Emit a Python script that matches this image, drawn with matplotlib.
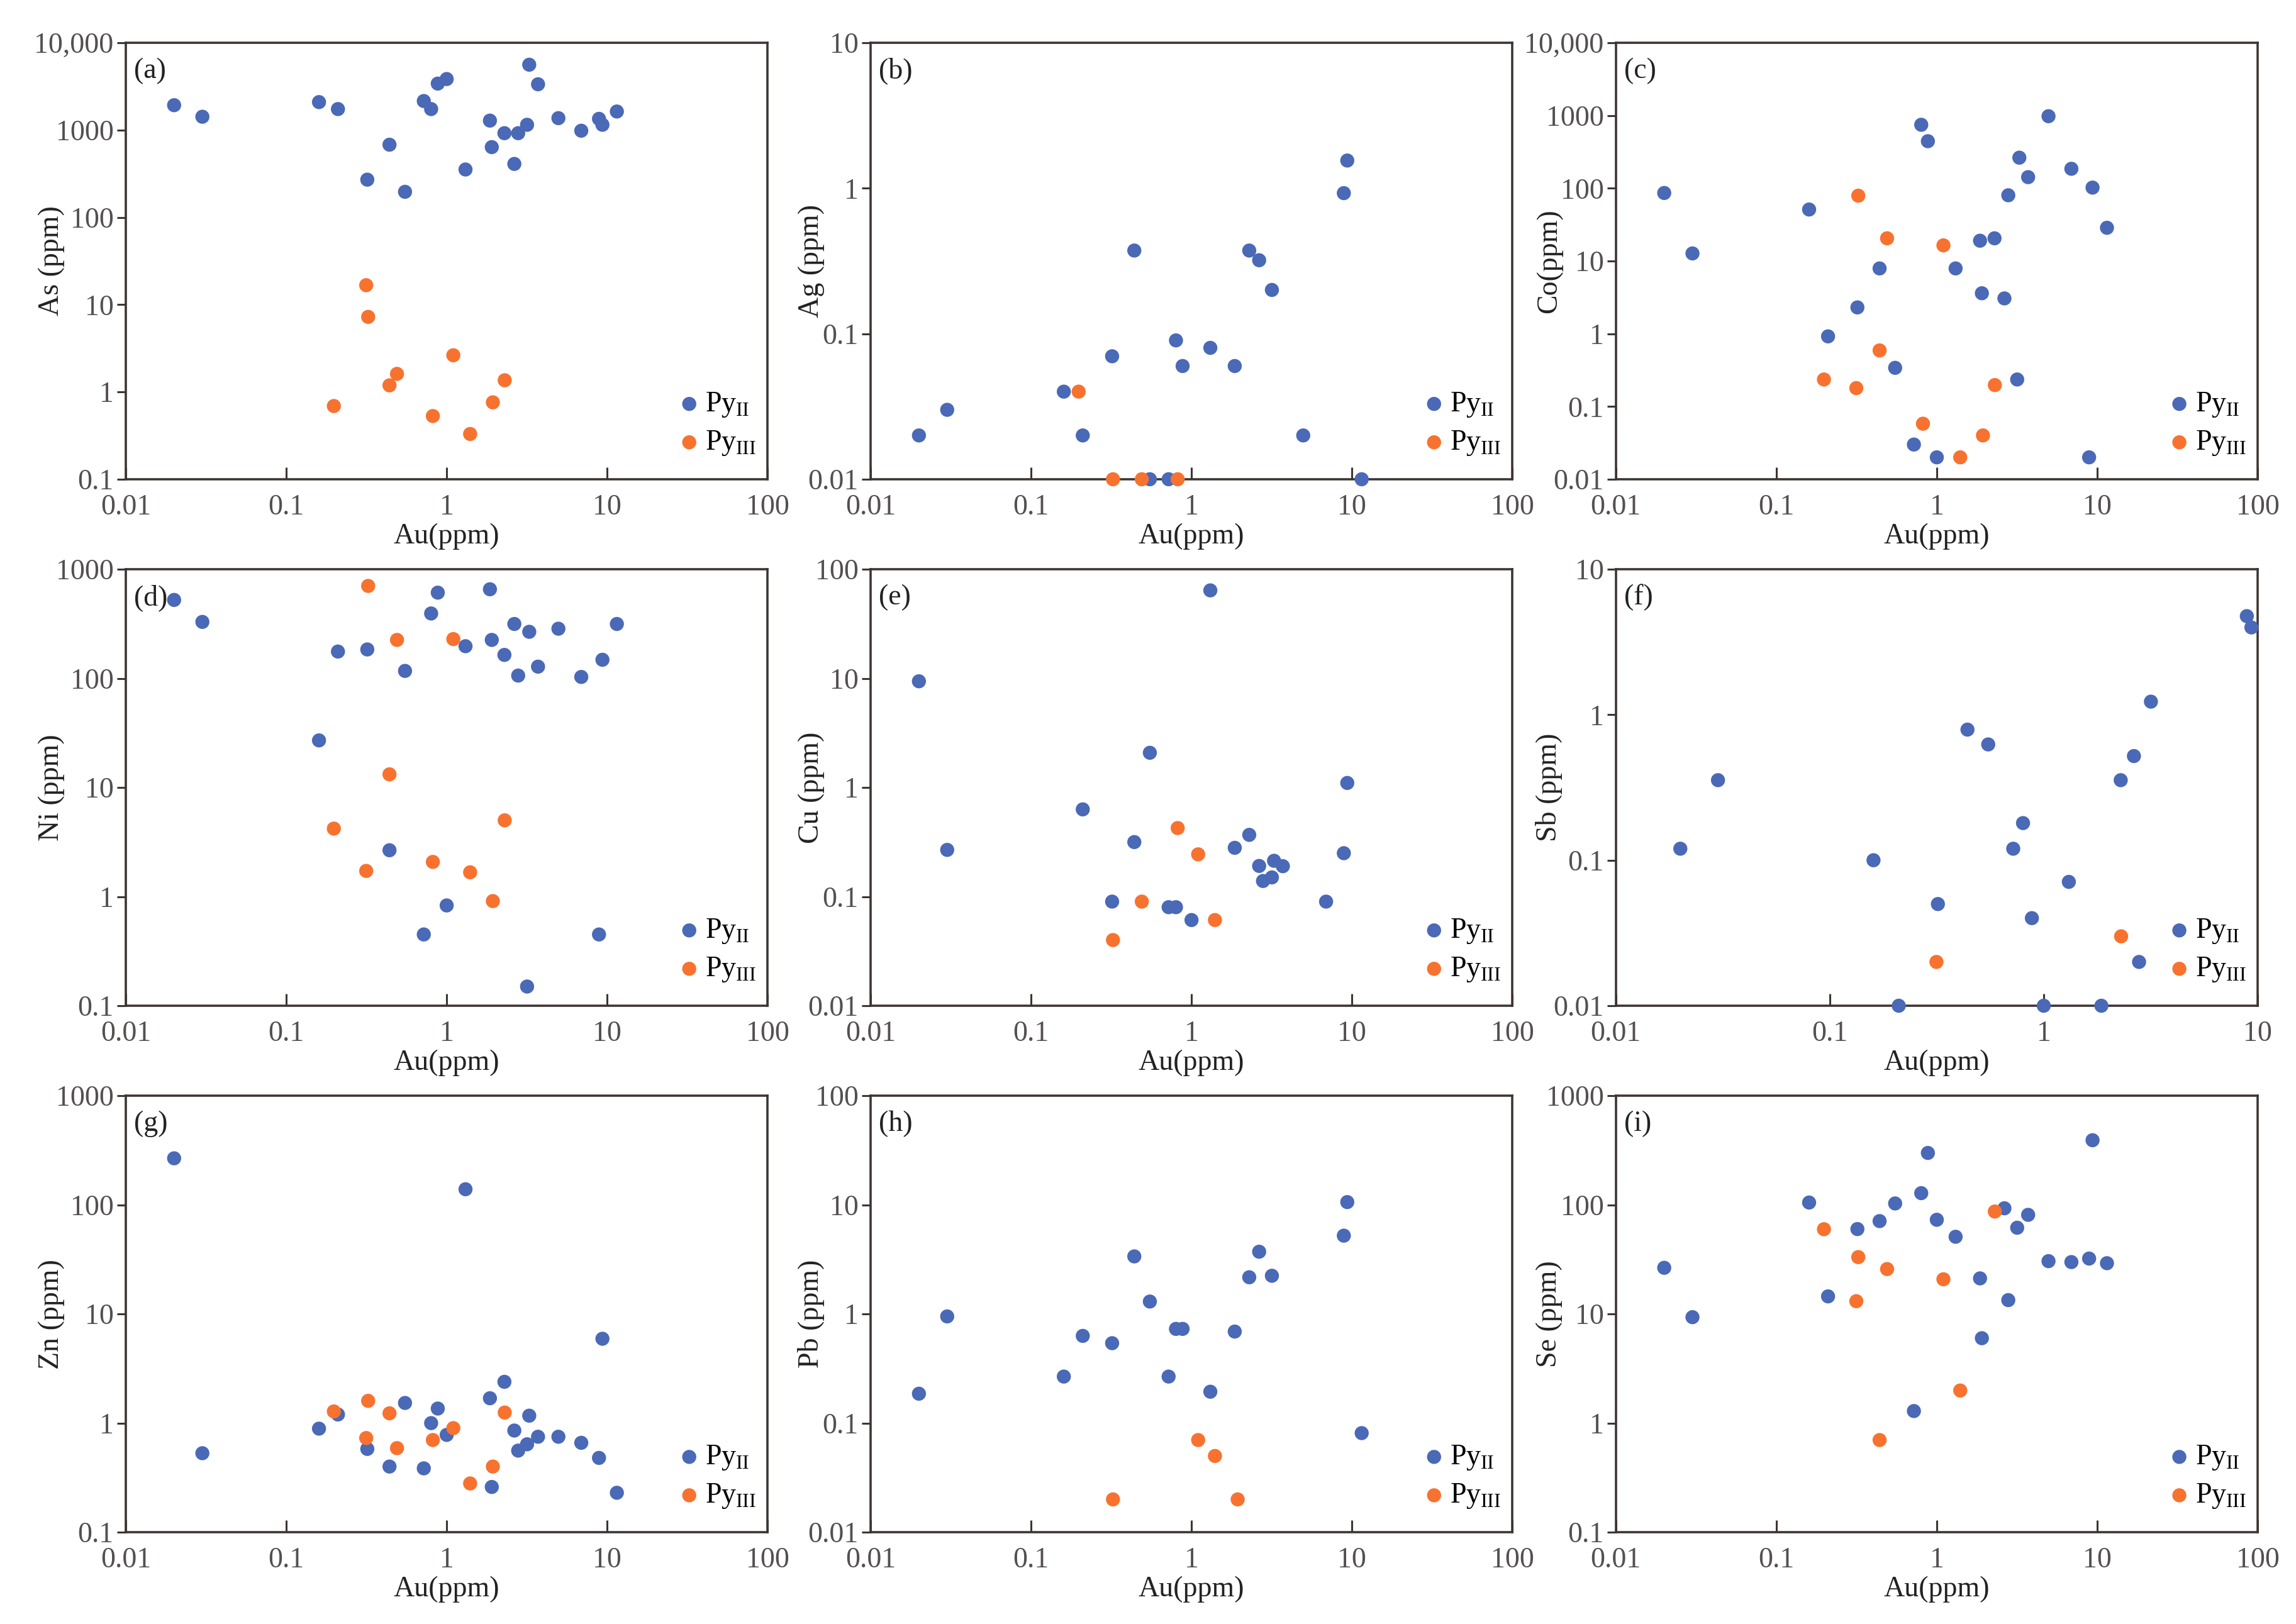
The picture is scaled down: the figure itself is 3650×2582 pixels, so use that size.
import numpy as np
import matplotlib
matplotlib.use("Agg")
import matplotlib.pyplot as plt
from matplotlib.ticker import FixedLocator, FuncFormatter

plt.rcParams["font.family"] = ["Liberation Serif", "DejaVu Serif"]
plt.rcParams["mathtext.fontset"] = "custom"
plt.rcParams["mathtext.rm"] = "Liberation Serif"

nan = np.nan

# Au content (ppm) of the analysed spots
AU_II = [0.02, 0.03, 0.16, 0.21, 0.32, 0.44, 0.55, 0.72, 0.80, 0.88, 1.0, 1.31, 1.86,
         1.91, 2.29, 2.64, 2.79, 3.17, 3.27, 3.71, 4.97, 6.9, 8.9, 9.35, 11.5]
AU_III = [0.198, 0.315, 0.324, 0.44, 0.49, 0.82, 1.10, 1.40, 1.94, 2.30]

# element contents (ppm), NaN = below detection / not plotted
AS_II = [1925, 1419, 2089, 1738, 270, 679, 196, 2148, 1738, 3404, 3837, 353, 1282,
         637, 920, 409, 920, 1148, 5598, 3342, 1368, 982, 1343, 1148, 1629]
AS_III = [0.69, 16.7, 7.24, 1.19, 1.61, 0.53, 2.63, 0.33, 0.76, 1.36]

AG_II = [0.02, 0.03, 0.04, 0.02, 0.07, 0.373, 0.01, 0.01, 0.09, 0.06, nan, 0.08, 0.06,
         nan, 0.373, 0.32, nan, 0.20, nan, nan, 0.02, nan, 0.925, 1.55, 0.01]
AG_III = [0.04, nan, 0.01, nan, 0.01, 0.01, nan, nan, nan, nan]

CO_II = [86, 12.7, 51, 0.92, 2.3, 7.9, 0.34, 0.03, 745, 443, 0.02, 7.9, 19,
         3.6, 20.5, 3.06, 80, 0.235, 263, 142, 977, 185, 0.02, 102, 28.6]
CO_III = [0.235, 0.179, 79, 0.59, 20.5, 0.058, 16.4, 0.02, 0.04, 0.197]

NI_II = [523, 329, 27, 176, 184, 2.66, 117, 0.45, 393, 610, 0.83, 197, 655,
         225, 164, 315, 106, 0.15, 267, 128, 285, 103, 0.45, 148, 315]
NI_III = [4.2, 1.72, 703, 13.2, 225, 2.08, 229, 1.67, 0.91, 5.0]

CU_II = [9.4, 0.268, nan, 0.63, 0.09, 0.316, 2.08, 0.08, 0.08, nan, 0.061, 64, 0.28,
         nan, 0.368, 0.191, 0.139, 0.15, 0.213, 0.19, nan, 0.09, 0.25, 1.1, nan]
CU_III = [nan, nan, 0.04, nan, 0.09, 0.425, 0.244, 0.061, nan, nan]

SB_II = [0.12, 0.355, 0.1, 0.01, 0.05, 0.79, 0.625, 0.12, 0.18, 0.04, 0.01, 0.071, 0.01,
         nan, 0.355, 0.52, 0.02, 1.23, nan, nan, nan, nan, 4.76, 3.98, nan]
SB_III = [nan, 0.02, nan, nan, nan, nan, nan, nan, nan, 0.03]

ZN_II = [267, 0.53, 0.89, 1.20, 0.58, 0.40, 1.53, 0.385, 1.0, 1.36, 0.78, 139, 1.69,
         0.26, 2.39, 0.855, 0.56, 0.64, 1.17, 0.75, 0.75, 0.66, 0.48, 5.93, 0.23]
ZN_III = [1.28, 0.73, 1.6, 1.23, 0.59, 0.70, 0.90, 0.28, 0.40, 1.25]

PB_II = [0.186, 0.95, 0.267, 0.63, 0.54, 3.37, 1.30, 0.267, 0.73, 0.73, nan, 0.194, 0.69,
         nan, 2.17, 3.72, nan, 2.24, nan, nan, nan, nan, 5.22, 10.6, 0.081]
PB_III = [nan, nan, 0.02, nan, nan, nan, 0.07, 0.05, 0.02, nan]

SE_II = [26.5, 9.35, 105, 14.5, 60, 71, 103, 1.29, 128, 299, 73, 51, 21.2,
         6.0, nan, 93, 13.4, 61.7, nan, 81, 30.5, 29.9, 32.2, 391, 29.2]
SE_III = [59.8, 13.1, 33.2, 0.70, 25.8, nan, 20.8, 1.99, nan, 86.9]

# tag, y label, Py-II values, Py-III values, y range, x max, y-label offset
PANELS = [
    ("(a)", "As (ppm)", AS_II, AS_III, (0.1, 10000), 100, -0.095),
    ("(b)", "Ag (ppm)", AG_II, AG_III, (0.01, 10), 100, -0.072),
    ("(c)", "Co(ppm)", CO_II, CO_III, (0.01, 10000), 100, -0.083),
    ("(d)", "Ni (ppm)", NI_II, NI_III, (0.1, 1000), 100, -0.095),
    ("(e)", "Cu (ppm)", CU_II, CU_III, (0.01, 100), 100, -0.072),
    ("(f)", "Sb (ppm)", SB_II, SB_III, (0.01, 10), 10, -0.083),
    ("(g)", "Zn (ppm)", ZN_II, ZN_III, (0.1, 1000), 100, -0.095),
    ("(h)", "Pb (ppm)", PB_II, PB_III, (0.01, 100), 100, -0.072),
    ("(i)", "Se (ppm)", SE_II, SE_III, (0.1, 1000), 100, -0.083),
]

BLUE = "#4A69B6"
ORANGE = "#F8722F"
FRAME = "#3d3532"
TICKCOL = "#555050"
FS = 33

COL_LEFT = [0.0548, 0.3792, 0.7038]
ROW_BOTTOM = [0.7049, 0.3807, 0.0565]
AX_W = 0.2795
AX_H = 0.2688


def fmt(v, pos):
    if v >= 10000:
        return f"{v:,.0f}"
    return f"{v:g}"


fig = plt.figure(figsize=(36.5, 25.82), dpi=100)

for i, (tag, ylabel, y2, y3, ylim, xmax, ylab_x) in enumerate(PANELS):
    r, c = divmod(i, 3)
    ax = fig.add_axes([COL_LEFT[c], ROW_BOTTOM[r], AX_W, AX_H])
    ax.set_xscale("log")
    ax.set_yscale("log")
    ax.set_xlim(0.01, xmax)
    ax.set_ylim(*ylim)

    ax.scatter(AU_II, y2, s=260, color=BLUE, edgecolors="none", zorder=3,
               clip_on=False, label=r"Py$_{\mathrm{II}}$")
    ax.scatter(AU_III, y3, s=260, color=ORANGE, edgecolors="none", zorder=4,
               clip_on=False, label=r"Py$_{\mathrm{III}}$")

    xt = [10.0 ** k for k in range(-2, int(np.log10(xmax)) + 1)]
    yt = [10.0 ** k for k in range(int(round(np.log10(ylim[0]))), int(round(np.log10(ylim[1]))) + 1)]
    ax.xaxis.set_major_locator(FixedLocator(xt))
    ax.yaxis.set_major_locator(FixedLocator(yt))
    ax.xaxis.set_major_formatter(FuncFormatter(fmt))
    ax.yaxis.set_major_formatter(FuncFormatter(fmt))
    ax.minorticks_off()

    ax.tick_params(axis="x", direction="in", length=14, width=2.2, color=FRAME,
                   labelsize=FS, labelcolor=TICKCOL, pad=17)
    ax.tick_params(axis="y", direction="out", length=10, width=2.2, color=FRAME,
                   labelsize=FS, labelcolor=TICKCOL, pad=4)
    for sp in ax.spines.values():
        sp.set_color(FRAME)
        sp.set_linewidth(2.6)

    ax.set_xlabel("Au(ppm)", fontsize=FS, color="#222222")
    ax.xaxis.set_label_coords(0.5, -0.1)
    ax.set_ylabel(ylabel, fontsize=FS, color="#222222")
    ax.yaxis.set_label_coords(ylab_x, 0.5)
    ax.text(0.013, 0.935, tag, transform=ax.transAxes, fontsize=FS,
            ha="left", va="center", color="#222222")

    ax.legend(loc="lower left", bbox_to_anchor=(0.86, 0.05), frameon=False,
              fontsize=FS, handlelength=0.8, handletextpad=0.15, labelspacing=0.35,
              borderaxespad=0, borderpad=0, markerscale=1.0, scatterpoints=1)

fig.savefig("out.png", dpi=100)
